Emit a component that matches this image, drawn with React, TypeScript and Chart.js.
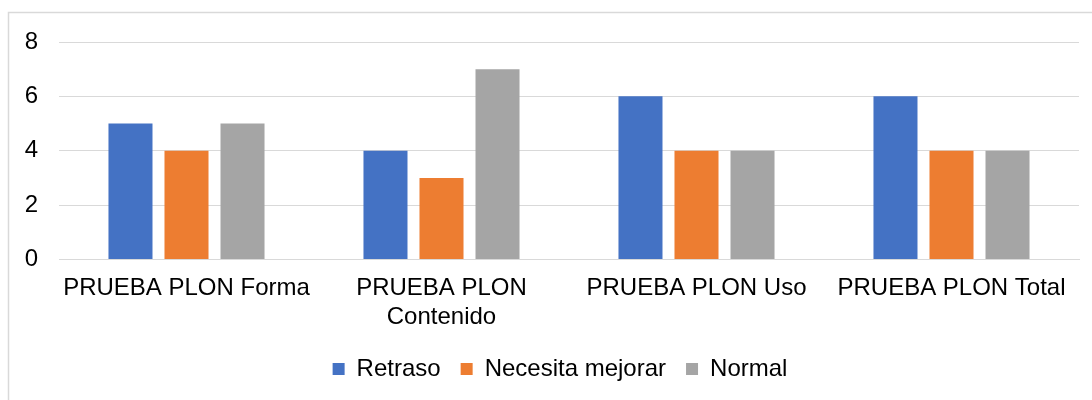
import React, { useEffect, useRef } from "react";
import { Chart, registerables } from "chart.js";

Chart.register(...registerables);

const categories: (string | string[])[] = [
  "PRUEBA PLON Forma",
  ["PRUEBA PLON", "Contenido"],
  "PRUEBA PLON Uso",
  "PRUEBA PLON Total",
];
const retraso = [5, 4, 6, 6];
const necesitaMejorar = [4, 3, 4, 4];
const normal = [5, 7, 4, 4];
const seriesNames = ["Retraso", "Necesita mejorar", "Normal"];
const yTicks = [0, 2, 4, 6, 8];

const FONT = "'Liberation Sans', Arial, sans-serif";

const frame = {
  id: "frame",
  beforeDraw(chart: any) {
    const ctx = chart.ctx;
    ctx.save();
    ctx.fillStyle = "#ffffff";
    ctx.fillRect(0, 0, chart.width, chart.height);
    ctx.strokeStyle = "#D9D9D9";
    ctx.lineWidth = 1.5;
    ctx.beginPath();
    ctx.moveTo(8.5, chart.height + 5);
    ctx.lineTo(8.5, 12.5);
    ctx.lineTo(chart.width + 5, 12.5);
    ctx.stroke();
    ctx.restore();
  },
};

const legendShift = {
  id: "legendShift",
  afterLayout(chart: any) {
    const lg = chart.legend;
    if (lg) {
      lg.left += 8;
      lg.right += 8;
    }
  },
};

export default function App() {
  const ref = useRef<HTMLCanvasElement>(null);
  useEffect(() => {
    if (!ref.current) return;
    const chart = new Chart(ref.current, {
      type: "bar",
      data: {
        labels: categories,
        datasets: [
          { label: seriesNames[0], data: retraso, backgroundColor: "#4472C4" },
          { label: seriesNames[1], data: necesitaMejorar, backgroundColor: "#ED7D31" },
          { label: seriesNames[2], data: normal, backgroundColor: "#A5A5A5" },
        ],
      },
      options: {
        responsive: false,
        animation: false,
        devicePixelRatio: 1,
        layout: { padding: { left: 25, right: 13, top: 42, bottom: 9 } },
        datasets: { bar: { categoryPercentage: 0.659, barPercentage: 0.786 } },
        scales: {
          x: {
            grid: { display: false, drawTicks: false },
            border: { display: true, color: "#D9D9D9", width: 1 },
            ticks: {
              color: "#000",
              font: { family: FONT, size: 24 },
              padding: 15,
              maxRotation: 0,
              autoSkip: false,
            },
            afterFit: (scale: any) => {
              scale.height -= 10;
              scale.paddingLeft = 0;
              scale.paddingRight = 0;
            },
          },
          y: {
            min: 0,
            max: 8,
            afterBuildTicks: (scale: any) => {
              scale.ticks = yTicks.map((v) => ({ value: v }));
            },
            afterFit: (scale: any) => {
              scale.width = 34;
            },
            grid: { color: "#D9D9D9", lineWidth: 1, drawTicks: false },
            border: { display: false },
            ticks: {
              color: "#000",
              font: { family: FONT, size: 24 },
              padding: 21,
            },
          },
        },
        plugins: {
          legend: {
            position: "bottom",
            labels: {
              boxWidth: 12,
              boxHeight: 12,
              padding: 20,
              color: "#000",
              font: { family: FONT, size: 24 },
            },
          },
          tooltip: { enabled: false },
        },
      },
      plugins: [frame, legendShift],
    });
    return () => chart.destroy();
  }, []);
  return (
    <canvas
      ref={ref}
      width={1092}
      height={400}
      style={{ position: "fixed", left: 0, top: 0, width: 1092, height: 400 }}
    />
  );
}
